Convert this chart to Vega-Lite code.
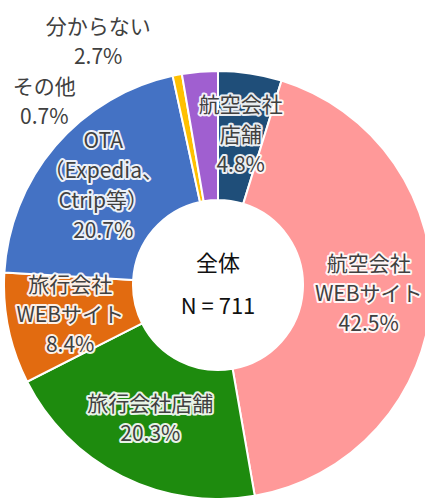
{
  "$schema": "https://vega.github.io/schema/vega-lite/v6.json",
  "width": 414,
  "height": 426,
  "autosize": {"type": "none"},
  "padding": {"left": 11, "top": 72, "right": 0, "bottom": 0},
  "background": "white",
  "config": {"view": {"stroke": null}, "font": "Noto Sans CJK JP"},
  "datasets": {
    "shares": [
      {"order": 1, "cat": "航空会社店舗", "label": "航空会社\n店舗\n4.8%", "lines": 3, "value": 4.8},
      {"order": 2, "cat": "航空会社WEBサイト", "label": "航空会社\nWEBサイト\n42.5%", "lines": 3, "value": 42.5},
      {"order": 3, "cat": "旅行会社店舗", "label": "旅行会社店舗\n20.3%", "lines": 2, "value": 20.3},
      {"order": 4, "cat": "旅行会社WEBサイト", "label": "旅行会社\nWEBサイト\n8.4%", "lines": 3, "value": 8.4},
      {"order": 5, "cat": "OTA", "label": "OTA\n（Expedia、\nCtrip等）\n20.7%", "lines": 4, "value": 20.7},
      {"order": 6, "cat": "その他", "label": "その他\n0.7%", "lines": 2, "value": 0.7},
      {"order": 7, "cat": "分からない", "label": "分からない\n2.7%", "lines": 2, "value": 2.7}
    ],
    "center": [{"text": "全体\nN = 711"}]
  },
  "layer": [
    {
      "data": {"name": "shares"},
      "mark": {"type": "arc", "outerRadius": 214, "innerRadius": 85, "stroke": "white", "strokeWidth": 2},
      "encoding": {
        "theta": {"field": "value", "type": "quantitative", "stack": true},
        "order": {"field": "order", "type": "quantitative", "sort": "ascending"},
        "detail": {"field": "cat"},
        "color": {
          "field": "cat", "type": "nominal", "legend": null,
          "scale": {
            "domain": ["航空会社店舗", "航空会社WEBサイト", "旅行会社店舗", "旅行会社WEBサイト", "OTA", "その他", "分からない"],
            "range": ["#1F4E79", "#FF9999", "#1E8B0E", "#E26B10", "#4472C4", "#FFC000", "#A05FD0"]
          }
        }
      }
    },
    {
      "data": {"name": "shares"},
      "mark": {"type": "text", "radius": 151, "dy": -15, "fontSize": 21, "lineHeight": 30, "lineBreak": "\n", "align": "center", "baseline": "middle", "fill": "white", "stroke": "white", "strokeWidth": 4, "strokeJoin": "round", "opacity": 0.9},
      "encoding": {
        "theta": {"field": "value", "type": "quantitative", "stack": true},
        "order": {"field": "order", "type": "quantitative", "sort": "ascending"},
        "detail": {"field": "cat"},
        "text": {"condition": {"test": "datum.order <= 5 && datum.lines == 2", "field": "label"}, "value": ""}
      }
    },
    {
      "data": {"name": "shares"},
      "mark": {"type": "text", "radius": 151, "dy": -30, "fontSize": 21, "lineHeight": 30, "lineBreak": "\n", "align": "center", "baseline": "middle", "fill": "white", "stroke": "white", "strokeWidth": 4, "strokeJoin": "round", "opacity": 0.9},
      "encoding": {
        "theta": {"field": "value", "type": "quantitative", "stack": true},
        "order": {"field": "order", "type": "quantitative", "sort": "ascending"},
        "detail": {"field": "cat"},
        "text": {"condition": {"test": "datum.order <= 5 && datum.lines == 3", "field": "label"}, "value": ""}
      }
    },
    {
      "data": {"name": "shares"},
      "mark": {"type": "text", "radius": 151, "dy": -45, "fontSize": 21, "lineHeight": 30, "lineBreak": "\n", "align": "center", "baseline": "middle", "fill": "white", "stroke": "white", "strokeWidth": 4, "strokeJoin": "round", "opacity": 0.9},
      "encoding": {
        "theta": {"field": "value", "type": "quantitative", "stack": true},
        "order": {"field": "order", "type": "quantitative", "sort": "ascending"},
        "detail": {"field": "cat"},
        "text": {"condition": {"test": "datum.order <= 5 && datum.lines == 4", "field": "label"}, "value": ""}
      }
    },
    {
      "data": {"name": "shares"},
      "mark": {"type": "text", "radius": 151, "dy": -15, "fontSize": 21, "lineHeight": 30, "lineBreak": "\n", "align": "center", "baseline": "middle", "fill": "#404040"},
      "encoding": {
        "theta": {"field": "value", "type": "quantitative", "stack": true},
        "order": {"field": "order", "type": "quantitative", "sort": "ascending"},
        "detail": {"field": "cat"},
        "text": {"condition": {"test": "datum.order <= 5 && datum.lines == 2", "field": "label"}, "value": ""}
      }
    },
    {
      "data": {"name": "shares"},
      "mark": {"type": "text", "radius": 151, "dy": -30, "fontSize": 21, "lineHeight": 30, "lineBreak": "\n", "align": "center", "baseline": "middle", "fill": "#404040"},
      "encoding": {
        "theta": {"field": "value", "type": "quantitative", "stack": true},
        "order": {"field": "order", "type": "quantitative", "sort": "ascending"},
        "detail": {"field": "cat"},
        "text": {"condition": {"test": "datum.order <= 5 && datum.lines == 3", "field": "label"}, "value": ""}
      }
    },
    {
      "data": {"name": "shares"},
      "mark": {"type": "text", "radius": 151, "dy": -45, "fontSize": 21, "lineHeight": 30, "lineBreak": "\n", "align": "center", "baseline": "middle", "fill": "#404040"},
      "encoding": {
        "theta": {"field": "value", "type": "quantitative", "stack": true},
        "order": {"field": "order", "type": "quantitative", "sort": "ascending"},
        "detail": {"field": "cat"},
        "text": {"condition": {"test": "datum.order <= 5 && datum.lines == 4", "field": "label"}, "value": ""}
      }
    },
    {
      "data": {"name": "shares"},
      "mark": {"type": "text", "radius": 151, "dx": -145, "dy": -49, "fontSize": 21, "lineHeight": 30, "lineBreak": "\n", "align": "center", "baseline": "middle", "fill": "#404040"},
      "encoding": {
        "theta": {"field": "value", "type": "quantitative", "stack": true},
        "order": {"field": "order", "type": "quantitative", "sort": "ascending"},
        "detail": {"field": "cat"},
        "text": {"condition": {"test": "datum.order == 6", "field": "label"}, "value": ""}
      }
    },
    {
      "data": {"name": "shares"},
      "mark": {"type": "text", "radius": 151, "dx": -107, "dy": -107, "fontSize": 21, "lineHeight": 30, "lineBreak": "\n", "align": "center", "baseline": "middle", "fill": "#404040"},
      "encoding": {
        "theta": {"field": "value", "type": "quantitative", "stack": true},
        "order": {"field": "order", "type": "quantitative", "sort": "ascending"},
        "detail": {"field": "cat"},
        "text": {"condition": {"test": "datum.order == 7", "field": "label"}, "value": ""}
      }
    },
    {
      "data": {"name": "center"},
      "mark": {"type": "text", "dy": -21, "fontSize": 22, "lineHeight": 43, "lineBreak": "\n", "align": "center", "baseline": "middle", "fill": "#111111"},
      "encoding": {"text": {"field": "text"}}
    }
  ]
}
